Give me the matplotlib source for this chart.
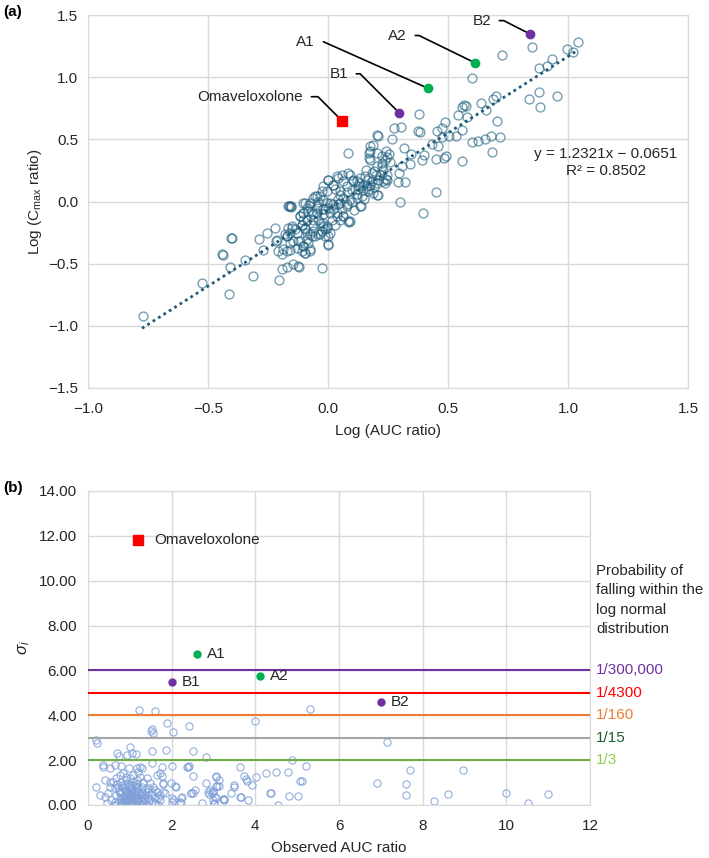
import numpy as np
import matplotlib.pyplot as plt
from matplotlib.ticker import FuncFormatter

plt.rcParams['font.family'] = ['Liberation Sans', 'DejaVu Sans']
plt.rcParams['font.size'] = 11
plt.rcParams['mathtext.fontset'] = 'custom'
plt.rcParams['mathtext.rm'] = 'Liberation Sans'
plt.rcParams['mathtext.it'] = 'Liberation Sans:italic'

# ---- panel (a): log(AUC ratio), log(Cmax ratio) for the reference drugs
log_ratios = [
    (0.851, 1.246), (0.724, 1.177), (1.040, 1.282), (0.997, 1.228), (1.019, 1.206),
    (0.932, 1.145), (0.914, 1.091), (0.879, 1.075), (0.601, 0.995), (0.839, 0.827),
    (0.879, 0.880), (0.953, 0.848), (0.885, 0.762), (0.699, 0.848), (0.686, 0.827),
    (0.637, 0.789), (0.567, 0.776), (0.575, 0.765), (0.560, 0.760), (0.657, 0.738),
    (0.543, 0.698), (0.580, 0.680), (0.488, 0.636), (0.703, 0.644), (0.379, 0.706),
    (0.304, 0.600), (0.274, 0.588), (0.374, 0.570), (0.383, 0.560), (0.453, 0.570),
    (0.474, 0.592), (0.558, 0.578), (0.207, 0.530), (0.267, 0.506), (0.318, 0.433),
    (0.346, 0.385), (0.401, 0.375), (0.390, 0.337), (0.432, 0.463), (0.460, 0.444),
    (0.474, 0.519), (0.504, 0.527), (0.532, 0.524), (0.450, 0.343), (0.485, 0.348),
    (0.490, 0.369), (0.560, 0.327), (0.601, 0.476), (0.626, 0.484), (0.654, 0.503),
    (0.679, 0.530), (0.715, 0.522), (0.685, 0.399), (0.297, 0.230), (0.307, 0.283),
    (0.342, 0.302), (0.321, 0.160), (0.293, 0.155), (0.240, 0.177), (0.245, 0.217),
    (0.224, 0.289), (0.245, 0.356), (0.175, 0.449), (0.172, 0.391), (0.203, 0.388),
    (0.224, 0.364), (0.238, 0.337), (0.255, 0.385), (0.450, 0.075), (0.299, 0.000),
    (0.396, -0.094), (0.238, 0.150), (0.210, 0.054), (0.138, -0.037), (0.092, -0.158),
    (0.082, 0.388), (0.203, 0.532), (0.186, 0.455), (0.175, 0.404), (0.172, 0.351),
    (0.175, 0.337), (0.242, 0.404), (0.258, 0.316), (0.224, 0.310), (0.203, 0.283),
    (0.193, 0.243), (0.230, 0.257), (0.217, 0.217), (0.182, 0.230), (0.154, 0.203),
    (0.244, 0.176), (0.231, 0.163), (0.203, 0.150), (0.182, 0.163), (0.161, 0.176),
    (0.133, 0.190), (0.119, 0.163), (0.106, 0.176), (0.092, 0.217), (0.057, 0.217),
    (0.043, 0.190), (0.078, 0.123), (0.099, 0.096), (0.126, 0.102), (0.147, 0.096),
    (0.168, 0.083), (0.189, 0.069), (0.203, 0.056), (0.140, 0.043), (0.133, -0.038),
    (0.085, -0.158), (0.064, -0.118), (0.036, -0.091), (0.022, -0.064), (0.008, -0.011),
    (-0.019, 0.016), (-0.033, 0.043), (-0.006, 0.083), (-0.019, 0.123), (0.001, 0.176),
    (0.022, 0.136), (0.050, 0.083), (0.064, 0.029), (0.078, -0.024), (0.043, -0.024),
    (0.015, -0.145), (-0.006, -0.212), (0.008, -0.252), (0.001, -0.279), (-0.019, -0.198),
    (-0.033, -0.172), (-0.047, -0.091), (-0.068, -0.078), (-0.061, -0.145), (-0.061, -0.185),
    (-0.089, -0.145), (-0.103, -0.091), (-0.110, -0.185), (-0.117, -0.118), (-0.096, -0.212),
    (-0.089, -0.252), (-0.075, -0.265), (-0.054, -0.279), (-0.033, -0.265), (-0.013, -0.225),
    (-0.117, -0.319), (-0.103, -0.359), (-0.096, -0.412), (-0.075, -0.386), (-0.131, -0.372),
    (-0.158, -0.332), (-0.172, -0.279), (-0.186, -0.386), (-0.151, -0.198), (-0.138, -0.225),
    (-0.165, -0.038), (-0.096, -0.011), (-0.061, 0.029), (-0.047, -0.038), (-0.013, -0.064),
    (0.029, -0.185), (0.050, -0.145), (0.092, 0.016), (0.119, 0.029), (0.147, 0.136),
    (0.161, 0.123), (0.175, 0.136), (0.210, 0.176), (0.001, -0.353),
    (-0.161, -0.038), (-0.156, -0.043), (-0.401, -0.297), (-0.404, -0.292), (-0.440, -0.425),
    (-0.436, -0.433), (-0.524, -0.658), (-0.411, -0.741), (-0.408, -0.524), (-0.346, -0.474),
    (-0.311, -0.599), (-0.286, -0.300), (-0.253, -0.257), (-0.221, -0.217), (-0.272, -0.391),
    (-0.211, -0.310), (-0.217, -0.318), (-0.207, -0.399), (-0.193, -0.425), (-0.172, -0.399),
    (-0.158, -0.391), (-0.165, -0.211), (-0.151, -0.217), (-0.158, -0.252), (-0.131, -0.252),
    (-0.124, -0.318), (-0.144, -0.318), (-0.172, -0.278), (-0.193, -0.546), (-0.169, -0.524),
    (-0.144, -0.506), (-0.124, -0.519), (-0.121, -0.527), (-0.203, -0.634), (-0.026, -0.538),
    (-0.117, -0.118), (-0.103, -0.145), (-0.110, -0.185), (-0.096, -0.225), (-0.089, -0.305),
    (-0.103, -0.359), (-0.110, -0.399), (-0.096, -0.412), (-0.075, -0.399), (-0.082, -0.332),
    (-0.068, -0.278), (-0.061, -0.238), (-0.040, -0.265), (-0.026, -0.238), (-0.012, -0.278),
    (0.001, -0.345), (-0.006, -0.198), (-0.019, -0.171), (-0.040, -0.145), (-0.061, -0.104),
    (-0.082, -0.078), (-0.047, -0.051), (-0.019, -0.064), (0.008, -0.091), (0.036, -0.118),
    (0.064, -0.118), (0.078, -0.038), (0.022, -0.024), (0.050, -0.011), (-0.006, -0.011),
    (-0.075, -0.011), (-0.089, -0.051), (-0.103, -0.091),
    (-0.769, -0.920), (-0.179, -0.265), (-0.158, -0.037), (-0.155, -0.037), (-0.103, -0.011),
    (-0.054, 0.043), (0.089, -0.163),
    (0.001, 0.176), (0.036, 0.203), (0.085, 0.230), (0.106, 0.163), (0.126, 0.123),
    (-0.047, 0.043), (-0.026, 0.083), (0.022, 0.136), (0.064, 0.163),
    (0.050, 0.050), (0.100, 0.000), (0.120, 0.060), (0.030, 0.100), (-0.020, -0.100),
    (0.060, -0.060), (0.150, 0.020), (0.080, 0.080), (0.170, 0.100), (0.110, -0.070),
    (-0.040, 0.000), (0.000, -0.050), (0.130, 0.150), (0.190, 0.120), (0.200, 0.210),
    (0.160, 0.250), (0.040, 0.020), (-0.080, -0.030),
]

# highlighted compounds (panel a)
special_a = {
    'Omaveloxolone': (0.058, 0.650),
    'B1': (0.296, 0.714),
    'A1': (0.415, 0.912),
    'A2': (0.612, 1.116),
    'B2': (0.843, 1.346),
}
slope, intercept, r2 = 1.2321, -0.0651, 0.8502
fit_range = (-0.775, 1.035)

# ---- panel (b): observed AUC ratio vs sigma_i
sigma_points = [
    (1.23, 4.23), (1.60, 4.20), (1.90, 3.64), (2.03, 3.27), (1.52, 3.37), (1.56, 3.22),
    (1.50, 3.31), (2.41, 3.50), (0.19, 2.90), (0.21, 2.75), (2.50, 2.42), (1.52, 2.41),
    (1.87, 2.45), (1.00, 2.57), (1.05, 2.30), (0.93, 2.23), (1.15, 2.27), (0.70, 2.30),
    (0.73, 2.18), (2.82, 2.12), (2.02, 1.74), (2.36, 1.68), (2.42, 1.74), (2.50, 1.29),
    (2.82, 0.97), (3.06, 0.86), (3.12, 0.86), (2.96, 0.55), (2.90, 0.49), (3.06, 1.26),
    (3.12, 1.11), (3.64, 1.71), (3.72, 1.29), (3.77, 1.14), (3.80, 1.07), (4.01, 1.26),
    (4.00, 3.76), (3.48, 0.88), (3.41, 0.52), (3.64, 0.37), (3.82, 0.22), (3.93, 0.89),
    (4.26, 1.41), (4.50, 1.46), (4.79, 1.48), (4.87, 2.00), (5.21, 1.74), (5.07, 1.05),
    (5.11, 1.08), (4.34, 0.55), (4.37, 0.52), (4.81, 0.42), (5.02, 0.42), (4.54, 0.00),
    (5.31, 4.28), (3.22, 0.25), (3.02, 0.07), (2.72, 0.07), (2.46, 0.52), (2.52, 0.55),
    (2.24, 0.37), (2.20, 0.15), (2.00, 0.12), (2.03, 0.22), (2.10, 0.82), (2.08, 0.86),
    (1.80, 0.59), (1.83, 0.52), (1.80, 0.92), (1.76, 1.29), (1.72, 1.41), (1.64, 1.34),
    (1.76, 1.68), (1.52, 1.86), (1.24, 1.71), (1.17, 1.63), (0.19, 0.82), (0.29, 0.45),
    (0.41, 0.37), (0.45, 0.07), (0.61, 0.00), (0.35, 1.78), (0.37, 1.71), (0.53, 1.63),
    (0.41, 1.11), (0.53, 1.04),
    (0.80, 1.75), (0.97, 1.66), (1.28, 1.66), (1.20, 1.48), (2.39, 1.71), (2.55, 0.67),
    (2.47, 0.52), (2.99, 0.62), (2.86, 0.59), (3.07, 0.30), (3.25, 0.22), (1.99, 0.97),
    (2.23, 0.33), (2.22, 0.07), (2.02, 0.30), (1.79, 0.97), (1.64, 0.59), (1.71, 0.45),
    (1.60, 0.30), (1.48, 0.22), (1.71, 0.22), (0.64, 1.78),
    (7.15, 2.79), (3.05, 1.29), (3.09, 0.85), (3.00, 0.59), (3.04, 0.34), (3.24, 0.25),
    (3.49, 0.79), (3.65, 0.37), (2.92, 0.67), (2.98, 0.22), (3.01, 0.04), (6.91, 0.97),
    (7.70, 1.56), (8.96, 1.56), (7.61, 0.94), (7.60, 0.45), (8.28, 0.18), (8.60, 0.49),
    (10.00, 0.52), (10.51, 0.07), (11.00, 0.51),
    (0.60, 1.04), (0.68, 1.19), (0.76, 1.34), (0.84, 1.41), (0.92, 1.26), (1.00, 1.19),
    (1.08, 1.34), (1.16, 1.11), (1.24, 1.26), (1.32, 1.04), (1.40, 1.19), (1.48, 0.97),
    (1.56, 0.82), (0.80, 1.04), (0.88, 0.89), (0.96, 0.97), (1.04, 0.82), (1.12, 0.89),
    (1.20, 0.74), (1.28, 0.82), (1.36, 0.67), (1.44, 0.59), (1.52, 0.45), (0.64, 0.74),
    (0.72, 0.82), (0.80, 0.59), (0.88, 0.67), (0.96, 0.52), (1.04, 0.59), (1.12, 0.45),
    (1.20, 0.52), (1.28, 0.37), (1.36, 0.45), (1.44, 0.30), (1.52, 0.15), (0.68, 0.45),
    (0.76, 0.30), (0.84, 0.37), (0.92, 0.22), (1.00, 0.30), (1.08, 0.15), (1.16, 0.22),
    (1.24, 0.07), (1.32, 0.15), (1.40, 0.02), (0.72, 0.07), (0.80, 0.02), (0.88, 0.12),
    (0.96, 0.02), (1.04, 0.03), (1.12, 0.02), (1.20, 0.02), (1.28, 0.02), (0.56, 0.22),
    (0.64, 0.12), (0.48, 0.52), (0.52, 0.82), (1.59, 0.07), (1.67, 0.02), (0.92, 1.11),
    (1.00, 0.67), (1.08, 0.37), (1.16, 0.67), (0.84, 0.74), (0.76, 0.52), (0.96, 0.30),
    (1.04, 0.22), (0.88, 0.45), (0.80, 0.22), (1.12, 0.59), (1.20, 0.30), (1.28, 0.59),
    (1.36, 0.22), (1.44, 0.74), (1.52, 0.59), (1.59, 0.67), (1.67, 0.30), (1.08, 1.04),
    (1.00, 0.07), (0.92, 0.02), (0.84, 0.07),
    (0.98, 0.45), (1.06, 0.50), (1.14, 0.38), (0.90, 0.35), (1.02, 0.40), (1.10, 0.28),
    (0.94, 0.60), (1.18, 0.12), (0.86, 0.18), (1.26, 0.18), (1.02, 0.12), (0.78, 0.12),
    (0.70, 0.95), (0.82, 0.88), (0.95, 0.80), (1.06, 0.70), (1.18, 0.92), (1.30, 0.50),
    (0.74, 0.62), (0.88, 0.28), (1.00, 0.90), (1.14, 0.78), (1.24, 0.44), (1.34, 0.32),
]

special_b = {
    'Omaveloxolone': (1.19, 11.80),
    'A1': (2.61, 6.71),
    'B1': (2.00, 5.48),
    'A2': (4.11, 5.75),
    'B2': (7.01, 4.59),
}

sigma_levels = [6, 5, 4, 3, 2]
prob_labels = ['1/300,000', '1/4300', '1/160', '1/15', '1/3']
line_colors = ['#7030a0', '#ff0000', '#ed7d31', '#a5a5a5', '#70ad47']
label_colors = ['#7030a0', '#ff0000', '#ed7d31', '#1e5c2a', '#8ccf4d']

marker_style = {'Omaveloxolone': ('s', '#ff0000'), 'A1': ('o', '#00b050'),
                'A2': ('o', '#00b050'), 'B1': ('o', '#7030a0'), 'B2': ('o', '#7030a0')}

grid_c = '#d9d9d9'
text_c = '#262626'


def minus_fmt(v, _):
    return f'{v:.1f}'.replace('-', '\u2212')


def style_axes(ax):
    ax.set_axisbelow(True)
    ax.grid(True, color=grid_c, lw=1)
    for s in ax.spines.values():
        s.set_color(grid_c)
    ax.tick_params(length=0, colors=text_c, labelsize=11)


fig = plt.figure(figsize=(7.09, 8.58), dpi=100)

# ---------------- panel (a)
ax1 = fig.add_axes([0.1241, 0.5478, 0.8463, 0.4347])
style_axes(ax1)
xa, ya = np.array(log_ratios).T
ax1.plot(xa, ya, 'o', mfc='none', mec='#1f5f7f', mew=1.0, ms=6.4, alpha=0.6, zorder=2)

xf = np.linspace(*fit_range, 50)
ax1.plot(xf, slope * xf + intercept, color='#1d5a78', lw=2, ls=(0, (1, 1.3)), zorder=3)

for name, (x, y) in special_a.items():
    m, c = marker_style[name]
    ax1.plot(x, y, m, color=c, ms=6.5 if m == 's' else 6, zorder=4)

# label text position and the angle of the leader line
leader = {
    'Omaveloxolone': ((-0.104, 0.843), -45),
    'A1': ((-0.054, 1.284), -24),
    'B1': ((0.083, 1.027), -45),
    'A2': ((0.329, 1.335), -26),
    'B2': ((0.679, 1.455), -27),
}
for name, ((tx, ty), ang) in leader.items():
    ax1.annotate(name, xy=special_a[name], xytext=(tx, ty), ha='right', va='center',
                 fontsize=11, color=text_c,
                 arrowprops=dict(arrowstyle='-', color='black', lw=1.2, shrinkA=4, shrinkB=3,
                                 connectionstyle=f'angle,angleA=0,angleB={ang},rad=0'))

ax1.text(1.158, 0.313, f'y = {slope}x \u2212 {abs(intercept):.4f}\nR\u00b2 = {r2:.4f}',
         ha='center', va='center', multialignment='center', linespacing=1.25,
         fontsize=11, color=text_c)

ax1.set_xlim(-1.0, 1.5)
ax1.set_ylim(-1.5, 1.5)
ax1.set_xticks(np.arange(-1.0, 1.51, 0.5))
ax1.set_yticks(np.arange(-1.5, 1.51, 0.5))
ax1.xaxis.set_major_formatter(FuncFormatter(minus_fmt))
ax1.yaxis.set_major_formatter(FuncFormatter(minus_fmt))
ax1.tick_params(axis='x', pad=10)
ax1.tick_params(axis='y', pad=7)
ax1.set_xlabel('Log (AUC ratio)', fontsize=11, color=text_c, labelpad=6)
ax1.set_ylabel(r'Log (C$_{\mathrm{max}}$ ratio)', fontsize=11, color=text_c, labelpad=3)

# ---------------- panel (b)
ax2 = fig.add_axes([0.1241, 0.0618, 0.7081, 0.3660])
style_axes(ax2)
xb, yb = np.array(sigma_points).T
ax2.plot(xb, yb, 'o', mfc='none', mec='#7f9fd8', mew=0.8, ms=5.2, alpha=0.85, zorder=2)

for lvl, col in zip(sigma_levels, line_colors):
    ax2.plot([0, 12], [lvl, lvl], color=col, lw=1.5, zorder=3)
for lvl, lab, col in zip(sigma_levels, prob_labels, label_colors):
    ax2.text(12.15, lvl, lab, color=col, va='center', ha='left', fontsize=11, clip_on=False)
ax2.text(12.15, 9.13, 'Probability of\nfalling within the\nlog normal\ndistribution',
         ha='left', va='center', fontsize=10.8, linespacing=1.5, color=text_c, clip_on=False)

for name, (x, y) in special_b.items():
    m, c = marker_style[name]
    ax2.plot(x, y, m, color=c, ms=6.5 if m == 's' else 5, zorder=4)
    off = 12 if name == 'Omaveloxolone' else 7
    ax2.annotate(name, xy=(x, y), xytext=(off, 0), textcoords='offset points',
                 ha='left', va='center', fontsize=11, color=text_c)

ax2.set_xlim(0, 12)
ax2.set_ylim(0, 14)
ax2.set_xticks(np.arange(0, 13, 2))
ax2.set_yticks(np.arange(0, 15, 2))
ax2.yaxis.set_major_formatter(FuncFormatter(lambda v, _: f'{v:.2f}'))
ax2.tick_params(axis='x', pad=10)
ax2.tick_params(axis='y', pad=8)
ax2.set_xlabel('Observed AUC ratio', fontsize=11, color=text_c, labelpad=6)
ax2.set_ylabel(r'$\sigma_i$', fontsize=12, color=text_c, labelpad=5)

fig.text(0.004, 1 - 12 / 858, '(a)', fontsize=11, fontweight='bold', va='center')
fig.text(0.004, 1 - 488 / 858, '(b)', fontsize=11, fontweight='bold', va='center')

fig.savefig('out.png', dpi=100)
